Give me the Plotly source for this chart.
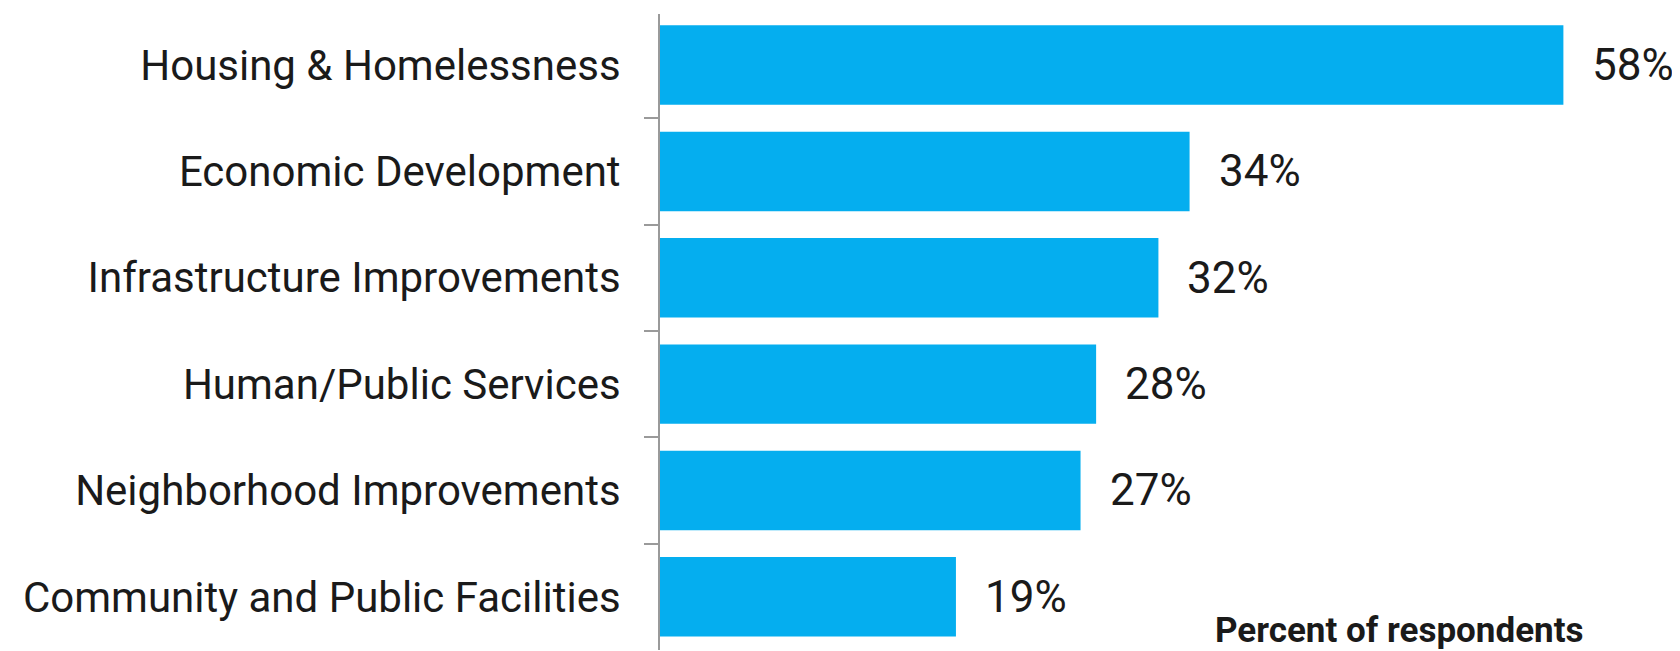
import plotly.graph_objects as go

categories = ["Housing & Homelessness", "Economic Development", "Infrastructure Improvements",
              "Human/Public Services", "Neighborhood Improvements", "Community and Public Facilities"]
values = [58, 34, 32, 28, 27, 19]
value_labels = ["58%", "34%", "32%", "28%", "27%", "19%"]
axis_title = "Percent of respondents"

BAR = "#05AEEF"
TXT = "#1a1a1a"
GRAY = "#9a9a9a"

fig = go.Figure()
fig.add_trace(go.Bar(
    x=values, y=categories, orientation="h",
    marker=dict(color=BAR, line=dict(width=0)),
    hoverinfo="skip",
))

for c, v, lab in zip(categories, values, value_labels):
    fig.add_annotation(x=v, y=c, xref="x", yref="y", text=lab, showarrow=False,
                       xanchor="left", yanchor="middle", xshift=27,
                       font=dict(family="Roboto", size=44, color=TXT))

fig.add_annotation(x=0.7195, y=0.0, xref="paper", yref="paper", text="<b>" + axis_title + "</b>",
                   showarrow=False, xanchor="center", yanchor="bottom", yshift=-3,
                   font=dict(family="Roboto", size=35, color=TXT))

fig.update_layout(
    width=1680, height=651,
    margin=dict(l=652, r=0, t=6, b=9),
    plot_bgcolor="white", paper_bgcolor="white",
    bargap=0.253,
    showlegend=False,
    xaxis=dict(range=[0, 66.0], visible=False, fixedrange=True),
    yaxis=dict(
        type="category",
        categoryorder="array", categoryarray=categories,
        range=[5.5, -0.48],
        showline=True, linecolor=GRAY, linewidth=2,
        ticks="outside", ticklen=14, tickwidth=2, tickcolor=GRAY,
        tickson="boundaries",
        ticklabelstandoff=29,
        showgrid=False, zeroline=False,
        tickfont=dict(family="Roboto", size=42, color=TXT),
    ),
)

fig.write_html("out.html")
